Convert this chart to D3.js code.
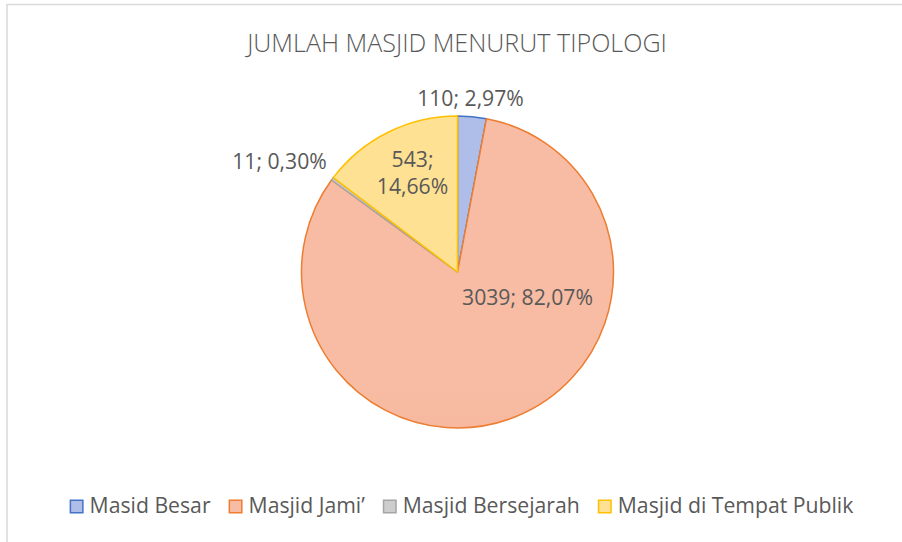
<!DOCTYPE html>
<html>
<head>
<meta charset="utf-8">
<script src="https://cdn.jsdelivr.net/npm/d3@7"></script>
<style>
  html, body { margin: 0; padding: 0; background: #fff; }
  svg { display: block; }
</style>
</head>
<body>
<svg id="chart" width="902" height="542"></svg>
<script>
// data
const categories = ["Masid Besar", "Masjid Jami\u2019", "Masjid Bersejarah", "Masjid di Tempat Publik"];
const values = [110, 3039, 11, 543];
const percentLabels = ["2,97%", "82,07%", "0,30%", "14,66%"];
const title = "JUMLAH MASJID MENURUT TIPOLOGI";

// styles
const fillTop = ["#afbee8", "#f7bca3", "#cdcdcd", "#ffe193"];
const fillBottom = ["#9aaedf", "#f4a482", "#bdbdbd", "#ffd47e"];
const strokes = ["#4472c4", "#ed7d31", "#a5a5a5", "#ffc000"];
const textColor = "#595959";
// label position relative to pie centre: [dx, baseline dy]
const labelOffset = [[13, -166], [70, 33], [-178, -103], [-45, -105]];
const labelSplit = [false, false, false, true];

const svg = d3.select("#chart"),
    font = "'Open Sans', sans-serif",
    cx = 457.5, cy = 272, radius = 156;

// chart border (cut off on right and bottom)
svg.append("rect")
    .attr("x", 7).attr("y", 4.5)
    .attr("width", 940).attr("height", 580)
    .attr("fill", "#fff")
    .attr("stroke", "#d9d9d9")
    .attr("stroke-width", 1.5);

const fitWidth = (sel, target) => {
    let w = sel.node().getComputedTextLength();
    let fs = parseFloat(sel.attr("font-size"));
    sel.attr("font-size", fs * target / w);
    return fs * target / w;
}

// title
let t = svg.append("text")
    .attr("x", 457).attr("y", 52)
    .attr("text-anchor", "middle")
    .attr("font-family", font)
    .attr("font-weight", 300)
    .attr("font-size", 24)
    .attr("fill", textColor)
    .text(title);
fitWidth(t, 420);

// gradients
let defs = svg.append("defs");
categories.forEach((c, i) => {
    let g = defs.append("linearGradient")
        .attr("id", "grad" + i)
        .attr("gradientUnits", "userSpaceOnUse")
        .attr("x1", 0).attr("y1", cy - radius)
        .attr("x2", 0).attr("y2", cy + radius);
    g.append("stop").attr("offset", "0%").attr("stop-color", fillTop[i]);
    g.append("stop").attr("offset", "100%").attr("stop-color", fillBottom[i]);
});

let pie = d3.pie().sort(null).value(d => d);
let arcs = pie(values);
let arc = d3.arc().innerRadius(0).outerRadius(radius);

let g = svg.append("g").attr("transform", "translate(" + cx + "," + cy + ")");

g.selectAll(".slice")
    .data(arcs)
    .enter().append("path")
    .attr("class", "slice")
    .attr("d", arc)
    .attr("fill", (d, i) => "url(#grad" + i + ")")
    .attr("stroke", (d, i) => strokes[i])
    .attr("stroke-width", 1.5)
    .attr("stroke-linejoin", "round");

// data labels
let labelSize = 20;
let probe = g.append("text")
    .attr("font-family", font)
    .attr("font-size", 20)
    .text(values[1] + "; " + percentLabels[1]);
labelSize = fitWidth(probe, 131);
probe.remove();

arcs.forEach((d, i) => {
    let txt = g.append("text")
        .attr("x", labelOffset[i][0])
        .attr("y", labelOffset[i][1])
        .attr("text-anchor", "middle")
        .attr("font-family", font)
        .attr("font-size", labelSize)
        .attr("fill", textColor);
    if (labelSplit[i]) {
        txt.append("tspan").attr("x", labelOffset[i][0]).text(values[i] + ";");
        txt.append("tspan").attr("x", labelOffset[i][0]).attr("dy", 27).text(percentLabels[i]);
    } else {
        txt.text(values[i] + "; " + percentLabels[i]);
    }
});

// legend
let legend = svg.append("g");
let items = legend.selectAll(".item")
    .data(categories)
    .enter().append("g")
    .attr("class", "item");
let legendText = items.append("text")
    .attr("y", 513)
    .attr("font-family", font)
    .attr("font-size", 20)
    .attr("fill", textColor)
    .text(d => d);

// scale legend font so total text width matches
let total = 0;
legendText.each(function() { total += this.getComputedTextLength(); });
let legendSize = 20 * 650 / total;
legendText.attr("font-size", legendSize);

let box = 14, gapText = 6, gapItem = 18;
let widths = [];
legendText.each(function() { widths.push(this.getComputedTextLength()); });
let fullWidth = d3.sum(widths) + categories.length * (box + gapText) + (categories.length - 1) * gapItem;
let xPos = 461.5 - fullWidth / 2;

items.each(function(d, i) {
    let item = d3.select(this);
    item.insert("rect", "text")
        .attr("x", xPos + 0.75).attr("y", 500.25)
        .attr("width", box - 1.5).attr("height", box - 1.5)
        .attr("fill", fillTop[i])
        .attr("stroke", strokes[i])
        .attr("stroke-width", 1.5);
    item.select("text").attr("x", xPos + box + gapText);
    xPos += box + gapText + widths[i] + gapItem;
});
</script>
</body>
</html>
